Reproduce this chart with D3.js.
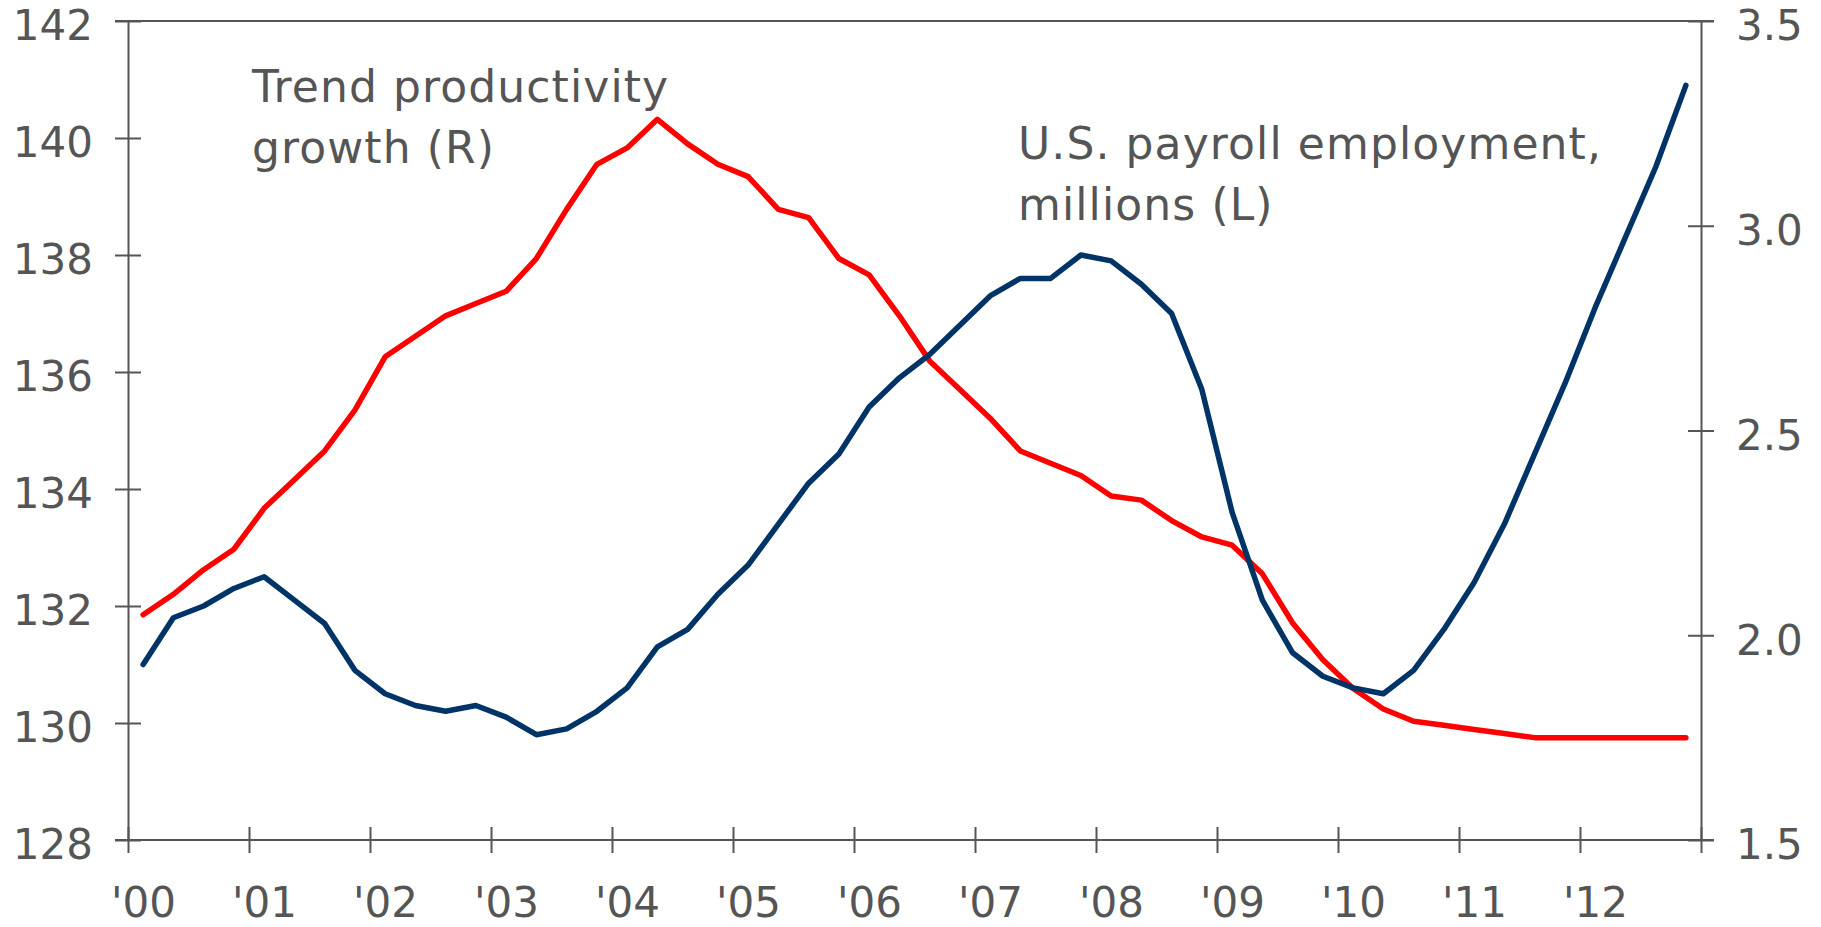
<!DOCTYPE html>
<html>
<head>
<meta charset="utf-8">
<script src="https://cdn.jsdelivr.net/npm/d3@7"></script>
<style>
  html, body { margin: 0; padding: 0; background: #fff; }
  svg { display: block; }
  text { font-family: "DejaVu Sans", Verdana, sans-serif; fill: #555; }
</style>
</head>
<body>
<svg id="chart" width="1821" height="927"></svg>
<script>
// ---- Data (quarterly, 2000Q1 – 2012Q4) ----
const quarters = [];
for (let y = 2000; y <= 2012; y++) for (let q = 1; q <= 4; q++) quarters.push(y + "Q" + q);

// U.S. payroll employment, millions (left axis)
const payroll = [
  131.0, 131.8, 132.0, 132.3, 132.5, 132.1, 131.7, 130.9,
  130.5, 130.3, 130.2, 130.3, 130.1, 129.8, 129.9, 130.2,
  130.6, 131.3, 131.6, 132.2, 132.7, 133.4, 134.1, 134.6,
  135.4, 135.9, 136.3, 136.8, 137.3, 137.6, 137.6, 138.0,
  137.9, 137.5, 137.0, 135.7, 133.6, 132.1, 131.2, 130.8,
  130.6, 130.5, 130.9, 131.6, 132.4, 133.4, 134.6, 135.8,
  137.1, 138.3, 139.5, 140.9
];

// Trend productivity growth (right axis)
const productivity = [
  2.05, 2.10, 2.16, 2.21, 2.31, 2.38, 2.45, 2.55,
  2.68, 2.73, 2.78, 2.81, 2.84, 2.92, 3.04, 3.15,
  3.19, 3.26, 3.20, 3.15, 3.12, 3.04, 3.02, 2.92,
  2.88, 2.78, 2.67, 2.60, 2.53, 2.45, 2.42, 2.39,
  2.34, 2.33, 2.28, 2.24, 2.22, 2.15, 2.03, 1.94,
  1.87, 1.82, 1.79, 1.78, 1.77, 1.76, 1.75, 1.75,
  1.75, 1.75, 1.75, 1.75
];

const yearTicks = d3.range(2000, 2014);
const yearLabels = ["'00","'01","'02","'03","'04","'05","'06","'07","'08","'09","'10","'11","'12"];
const leftTicks = [128, 130, 132, 134, 136, 138, 140, 142];
const rightTicks = [1.5, 2.0, 2.5, 3.0, 3.5];

// ---- Layout ----
const L = 128, R = 1701, T = 21, B = 840;
const svg = d3.select("#chart");
const axisColor = "#555";
const FONT = '"DejaVu Sans", Verdana, sans-serif';

const qToX = s => +s.slice(0, 4) + (+s.slice(5) - 0.5) / 4;
const x = d3.scaleLinear().domain([2000, 2013]).range([L, R]);
const yL = d3.scaleLinear().domain([128, 142]).range([B, T]);
const yR = d3.scaleLinear().domain([1.5, 3.5]).range([B, T]);

function styleAxis(g, size) {
  g.attr("font-size", size).attr("font-family", FONT);
  g.select(".domain").attr("stroke", axisColor).attr("stroke-width", 2);
  g.selectAll(".tick line").attr("stroke", axisColor).attr("stroke-width", 2);
  g.selectAll(".tick text").attr("fill", "#555").attr("font-size", size).attr("font-family", FONT);
}

const gLeft = svg.append("g").attr("transform", `translate(${L},0)`)
  .call(d3.axisLeft(yL).tickValues(leftTicks).tickSize(13).tickSizeOuter(0).tickPadding(22)
    .tickFormat(d3.format("d")));
gLeft.selectAll(".tick line").attr("x1", 13);
gLeft.selectAll(".tick text").attr("dy", "0.45em");
styleAxis(gLeft, 42);

const gRight = svg.append("g").attr("transform", `translate(${R},0)`)
  .call(d3.axisRight(yR).tickValues(rightTicks).tickSize(13).tickSizeOuter(0).tickPadding(22)
    .tickFormat(d3.format(".1f")));
gRight.selectAll(".tick line").attr("x1", -13);
gRight.selectAll(".tick text").attr("dy", "0.45em");
styleAxis(gRight, 42);

const gBottom = svg.append("g").attr("transform", `translate(0,${B})`)
  .call(d3.axisBottom(x).tickValues(yearTicks).tickSize(13).tickSizeOuter(0).tickPadding(0)
    .tickFormat((d, i) => yearLabels[i] || ""));
gBottom.selectAll(".tick line").attr("y1", -13);
gBottom.selectAll(".tick text").attr("x", 15).attr("y", 77).attr("dy", 0);
styleAxis(gBottom, 42);
gBottom.select(".domain").remove();

// Frame lines (top and bottom, extended over the crossing ticks)
svg.append("line").attr("x1", L - 13).attr("x2", R + 13).attr("y1", T).attr("y2", T)
  .attr("stroke", axisColor).attr("stroke-width", 2);
svg.append("line").attr("x1", L - 13).attr("x2", R + 13).attr("y1", B).attr("y2", B)
  .attr("stroke", axisColor).attr("stroke-width", 2);

// Lines
const lineL = d3.line().x((d, i) => x(qToX(quarters[i]))).y(d => yL(d));
const lineR = d3.line().x((d, i) => x(qToX(quarters[i]))).y(d => yR(d));

svg.append("path").datum(productivity).attr("d", lineR)
  .attr("fill", "none").attr("stroke", "#ff0000").attr("stroke-width", 5.5)
  .attr("stroke-linejoin", "round").attr("stroke-linecap", "round");

svg.append("path").datum(payroll).attr("d", lineL)
  .attr("fill", "none").attr("stroke", "#003366").attr("stroke-width", 5.5)
  .attr("stroke-linejoin", "round").attr("stroke-linecap", "round");

// Annotations
const ann = [
  { lines: ["Trend productivity", "growth (R)"], x: 252, y: 102 },
  { lines: ["U.S. payroll employment,", "millions (L)"], x: 1018, y: 159 }
];
ann.forEach(a => {
  const t = svg.append("text").attr("x", a.x).attr("y", a.y)
    .attr("font-size", 44).attr("font-family", FONT).style("letter-spacing", "1.1px");
  a.lines.forEach((s, i) => t.append("tspan").attr("x", a.x).attr("dy", i === 0 ? 0 : 61).text(s));
});
</script>
</body>
</html>
